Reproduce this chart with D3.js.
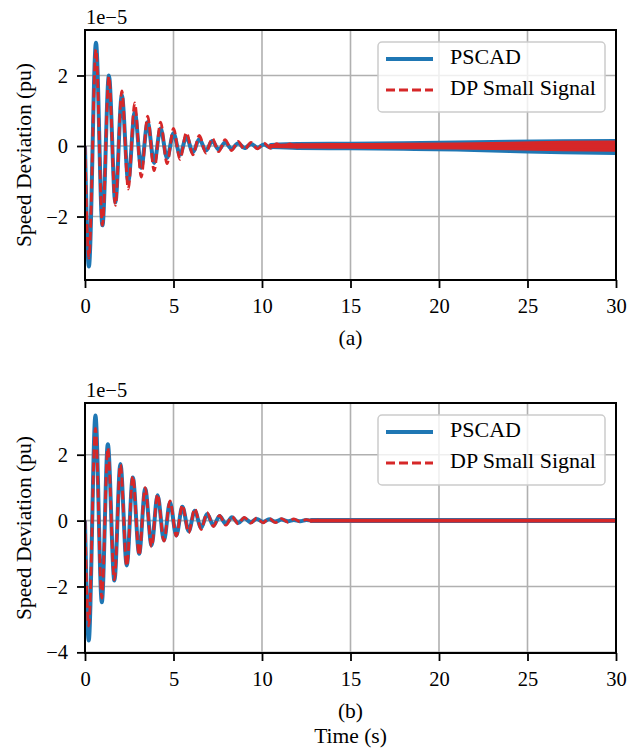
<!DOCTYPE html>
<html><head><meta charset="utf-8">
<script src="https://cdn.jsdelivr.net/npm/d3@7"></script>
<style>
html,body{margin:0;padding:0;background:#fff;}
svg{display:block;}
text{font-family:"Liberation Serif","Times New Roman",serif;fill:#000;}
</style></head>
<body><svg id="c" width="627" height="751"></svg>
<script>
// ---- data (units of 1e-5 pu) ----
const xTicks = [0, 5, 10, 15, 20, 25, 30];
const yTicksA = [-2, 0, 2];
const yTicksB = [-4, -2, 0, 2];
const seriesNames = ["PSCAD", "DP Small Signal"];
const panelLabels = ["(a)", "(b)"];

// (a) oscillation extremes
const timeA = [0, 0.22, 0.62, 0.985, 1.35, 1.715, 2.08, 2.445, 2.81, 3.175, 3.54, 3.905, 4.27, 4.635, 5.0, 5.365, 5.73, 6.095, 6.46, 6.825, 7.19, 7.555, 7.92, 8.285, 8.65, 9.015, 9.38, 9.745, 10.11, 10.475, 10.84, 11.205, 11.57, 11.935, 12.3];
const pscadA = [0, -3.42, 2.93, -2.25, 2.0, -1.6, 1.44, -1.0, 0.96, -0.62, 0.68, -0.48, 0.5, -0.34, 0.36, -0.25, 0.26, -0.18, 0.2, -0.13, 0.14, -0.1, 0.1, -0.08, 0.08, -0.06, 0.06, -0.05, 0.04, -0.04, 0.03, -0.03, 0.03, -0.02, 0.02];
const dpA = [0, -3.18, 2.74, -2.25, 1.97, -1.68, 1.56, -1.22, 1.22, -0.88, 0.85, -0.70, 0.68, -0.5, 0.5, -0.38, 0.38, -0.25, 0.3, -0.2, 0.22, -0.16, 0.18, -0.13, 0.13, -0.1, 0.1, -0.08, 0.08, -0.06, 0.07, -0.05, 0.06, -0.04, 0.05];
// (a) noisy tail envelope
const tailTimeA = [10.5, 12, 15, 18, 21, 24, 27, 30];
const pscadHiA = [0.03, 0.055, 0.065, 0.08, 0.10, 0.12, 0.135, 0.14];
const pscadLoA = [-0.03, -0.055, -0.065, -0.08, -0.10, -0.14, -0.18, -0.2];
const dpHiA = [0.02, 0.04, 0.045, 0.05, 0.06, 0.08, 0.11, 0.12];
const dpLoA = [-0.02, -0.03, -0.04, -0.05, -0.06, -0.08, -0.11, -0.12];

// (b) oscillation extremes
const timeB = [0, 0.21, 0.59, 0.95, 1.29, 1.66, 2.0, 2.36, 2.7, 3.06, 3.4, 3.76, 4.1, 4.46, 4.8, 5.16, 5.5, 5.86, 6.2, 6.56, 6.9, 7.26, 7.6, 7.96, 8.3, 8.66, 9.0, 9.36, 9.7, 10.06, 10.4, 10.76, 11.1, 11.46, 11.8, 12.16, 12.5, 12.86, 13.2];
const pscadB = [0, -3.64, 3.19, -2.48, 2.32, -1.82, 1.72, -1.36, 1.31, -1.01, 0.97, -0.75, 0.77, -0.6, 0.55, -0.45, 0.42, -0.32, 0.3, -0.22, 0.2, -0.15, 0.14, -0.1, 0.1, -0.07, 0.07, -0.05, 0.05, -0.04, 0.04, -0.03, 0.03, -0.02, 0.02, -0.02, 0.02, -0.01, 0.01];
const dpB = [0, -3.2, 2.8, -2.35, 2.2, -1.8, 1.7, -1.38, 1.35, -1.05, 1.0, -0.8, 0.8, -0.62, 0.6, -0.47, 0.47, -0.37, 0.36, -0.27, 0.24, -0.18, 0.16, -0.14, 0.12, -0.1, 0.1, -0.08, 0.08, -0.07, 0.07, -0.06, 0.06, -0.05, 0.05, -0.04, 0.03, -0.02, 0.02];
// (b) tail envelope
const tailTimeB = [12.8, 15, 20, 25, 30];
const pscadHiB = [0.015, 0.015, 0.015, 0.015, 0.015];
const pscadLoB = [-0.015, -0.015, -0.015, -0.015, -0.015];
const dpHiB = [0.015, 0.012, 0.012, 0.012, 0.012];
const dpLoB = [-0.015, -0.012, -0.012, -0.012, -0.012];

// ---- styling ----
const BLUE = "#1f77b4", RED = "#d62728", GRID = "#b0b0b0";
const svg = d3.select("#c");
const L = 85, R = 616;

const panels = [
  {top: 30, bottom: 280, dom: [-3.80, 3.29], yt: yTicksA, t: timeA, p: pscadA, d: dpA,
   tt: tailTimeA, ph: pscadHiA, pl: pscadLoA, dh: dpHiA, dl: dpLoA, label: panelLabels[0], labelY: 340, xlab: null},
  {top: 403, bottom: 653, dom: [-4.02, 3.57], yt: yTicksB, t: timeB, p: pscadB, d: dpB,
   tt: tailTimeB, ph: pscadHiB, pl: pscadLoB, dh: dpHiB, dl: dpLoB, label: panelLabels[1], labelY: 713, xlab: "Time (s)"}
];

panels.forEach((P, i) => {
  const x = d3.scaleLinear().domain([0, 30]).range([L, R]);
  const y = d3.scaleLinear().domain(P.dom).range([P.bottom, P.top]);
  const g = svg.append("g");
  const cid = "clip" + i;
  g.append("clipPath").attr("id", cid).append("rect")
    .attr("x", L).attr("y", P.top).attr("width", R - L).attr("height", P.bottom - P.top);

  // grid
  g.append("g").selectAll("line").data(xTicks).join("line")
    .attr("x1", d => x(d)).attr("x2", d => x(d)).attr("y1", P.top).attr("y2", P.bottom)
    .attr("stroke", GRID).attr("stroke-width", 1.6);
  g.append("g").selectAll("line").data(P.yt).join("line")
    .attr("x1", L).attr("x2", R).attr("y1", d => y(d)).attr("y2", d => y(d))
    .attr("stroke", GRID).attr("stroke-width", 1.6);

  const plot = g.append("g").attr("clip-path", `url(#${cid})`);
  const line = d3.line().x(d => x(d[0])).y(d => y(d[1])).curve(d3.curveMonotoneX);
  const area = d3.area().x(d => x(d[0])).y0(d => y(d[1])).y1(d => y(d[2])).curve(d3.curveMonotoneX);

  // PSCAD
  plot.append("path").datum(P.tt.map((t, k) => [t, P.pl[k], P.ph[k]]))
    .attr("d", area).attr("fill", BLUE).attr("stroke", BLUE).attr("stroke-width", 4).attr("stroke-linejoin", "round");
  plot.append("path").datum(P.t.map((t, k) => [t, P.p[k]]))
    .attr("d", line).attr("fill", "none").attr("stroke", BLUE).attr("stroke-width", 4).attr("stroke-linejoin", "round");
  // DP small signal
  plot.append("path").datum(P.tt.map((t, k) => [t, P.dl[k], P.dh[k]]))
    .attr("d", area).attr("fill", RED).attr("stroke", RED).attr("stroke-width", 2.8);
  plot.append("path").datum(P.t.map((t, k) => [t, P.d[k]]))
    .attr("d", line).attr("fill", "none").attr("stroke", RED).attr("stroke-width", 2.8)
    .attr("stroke-dasharray", "9,4");

  // axes
  const xa = g.append("g").attr("transform", `translate(0,${P.bottom})`)
    .call(d3.axisBottom(x).tickValues(xTicks).tickSize(8).tickPadding(6).tickFormat(d3.format("d")));
  const ya = g.append("g").attr("transform", `translate(${L},0)`)
    .call(d3.axisLeft(y).tickValues(P.yt).tickSize(8).tickPadding(9).tickFormat(d => d < 0 ? "\u2212" + Math.abs(d) : d));
  [xa, ya].forEach(a => {
    a.select(".domain").remove();
    a.selectAll(".tick line").attr("stroke", "#000").attr("stroke-width", 1.8);
    a.selectAll(".tick text").attr("font-size", 20.5).attr("font-family", "Liberation Serif");
  });
  xa.selectAll(".tick text").attr("dy", "0.95em");
  // frame
  g.append("rect").attr("x", L).attr("y", P.top).attr("width", R - L).attr("height", P.bottom - P.top)
    .attr("fill", "none").attr("stroke", "#000").attr("stroke-width", 2);

  // offset text
  g.append("text").attr("x", L + 1).attr("y", P.top - 6).attr("font-size", 20.5).text("1e\u22125");
  // y label
  g.append("text").attr("transform", `translate(31,${(P.top + P.bottom) / 2}) rotate(-90)`)
    .attr("text-anchor", "middle").attr("font-size", 21.5).text("Speed Deviation (pu)");
  // panel label
  g.append("text").attr("x", (L + R) / 2).attr("y", P.labelY).attr("text-anchor", "middle")
    .attr("dominant-baseline", "middle").attr("font-size", 21.5).text(P.label);
  if (P.xlab) g.append("text").attr("x", (L + R) / 2).attr("y", 738).attr("text-anchor", "middle")
    .attr("dominant-baseline", "middle").attr("font-size", 21.5).text(P.xlab);

  // legend
  const lg = g.append("g").attr("transform", `translate(378,${P.top + 12})`);
  lg.append("rect").attr("width", 227).attr("height", 70).attr("rx", 4)
    .attr("fill", "#fff").attr("fill-opacity", 0.8).attr("stroke", "#cccccc").attr("stroke-width", 1.5);
  const items = [{c: BLUE, w: 4, dash: null, y: 17}, {c: RED, w: 2.8, dash: "9,4", y: 48}];
  items.forEach((it, k) => {
    lg.append("line").attr("x1", 8).attr("x2", 55).attr("y1", it.y).attr("y2", it.y)
      .attr("stroke", it.c).attr("stroke-width", it.w).attr("stroke-dasharray", it.dash);
    lg.append("text").attr("x", 72).attr("y", it.y).attr("dominant-baseline", "middle")
      .attr("font-size", 22).text(seriesNames[k]);
  });
});
</script></body></html>
